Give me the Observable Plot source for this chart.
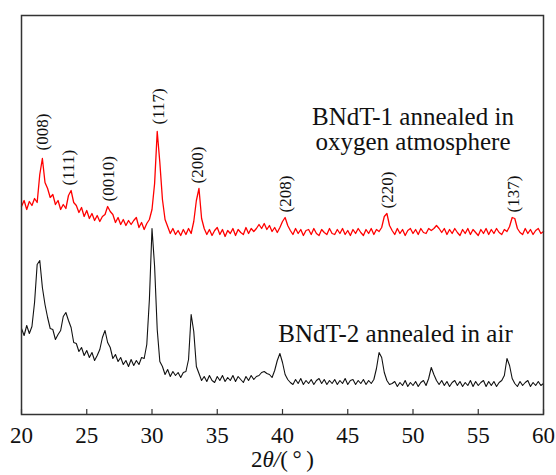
<!DOCTYPE html>
<html><head><meta charset="utf-8">
<script src="https://cdn.jsdelivr.net/npm/d3@7"></script>
<script src="https://cdn.jsdelivr.net/npm/@observablehq/plot@0.6"></script>
<style>body{margin:0;background:#fff}</style>
</head><body><div id="chart"></div>
<script>
// 2θ sampling grid (degrees), 20 → 60 in 0.2° steps
const twoTheta = d3.range(0, 201).map(i => +(20 + i * 0.2).toFixed(1));

// BNdT-1 annealed in oxygen atmosphere (intensity, a.u.)
const bndt1 = [
  208,214,205,213,209,216,212,240,256,232,
  226,217,220,210,214,205,210,206,219,224,
  212,209,202,207,198,204,196,201,194,199,
  193,198,200,208,203,200,192,197,190,195,
  189,194,190,194,197,187,192,185,191,195,
  205,231,283,252,215,195,188,181,186,180,
  184,179,185,180,186,181,193,214,226,196,
  186,180,185,179,184,187,180,185,178,184,
  181,186,179,185,182,180,187,181,186,183,
  186,190,186,191,185,189,183,187,182,187,
  193,197,189,184,180,186,181,185,179,184,
  185,180,186,181,179,185,182,180,186,181,
  180,185,181,186,180,184,179,185,181,186,
  182,179,185,181,186,180,185,183,187,198,
  201,189,184,180,186,181,185,179,184,186,
  181,185,180,186,182,181,186,184,186,189,
  186,182,186,180,185,181,186,182,179,185,
  181,186,180,185,182,179,185,181,186,180,
  185,181,186,182,180,185,183,188,197,196,
  186,182,180,186,181,185,180,184,186,181,
  183
];

// BNdT-2 annealed in air
const bndt2 = [
  86,79,89,81,88,112,150,154,127,110,
  97,86,85,75,80,84,98,102,94,87,
  72,71,63,67,59,64,57,62,54,59,
  65,77,84,72,67,56,60,53,57,50,
  54,48,55,49,54,50,57,56,70,115,
  186,148,85,53,48,40,45,38,43,39,
  42,37,42,43,55,100,83,48,41,34,
  38,33,39,34,32,38,34,39,33,37,
  34,39,33,38,35,32,38,34,39,35,
  38,39,42,43,41,40,37,44,54,61,
  52,40,35,32,30,35,31,36,30,34,
  31,35,30,34,36,31,35,30,34,31,
  35,30,34,31,36,30,34,35,30,34,
  31,35,30,34,31,35,46,62,57,42,
  34,30,31,33,28,32,29,34,28,32,
  29,33,28,32,34,29,36,47,40,34,
  30,34,29,33,28,32,34,29,33,28,
  32,29,34,28,33,29,32,34,28,33,
  29,33,28,32,34,39,56,49,36,31,
  28,33,29,32,34,28,32,29,33,29,
  31
];

// Indexed reflections of BNdT-1
const peakHkl = ["(008)","(111)","(0010)","(117)","(200)","(208)","(220)","(137)"];
const peakTheta = [21.6, 23.6, 26.7, 30.5, 33.5, 40.2, 48.05, 57.7];
const peakIntensity = [259, 224, 208, 285, 226, 197, 201, 197];

const xTicks = [20,25,30,35,40,45,50,55,60];

const s1 = twoTheta.map((t, i) => ({t, v: bndt1[i]}));
const s2 = twoTheta.map((t, i) => ({t, v: bndt2[i]}));
const peaks = peakHkl.map((h, i) => ({h, t: peakTheta[i], v: peakIntensity[i]}));

const serif = "'Liberation Serif', 'Times New Roman', serif";

const plot = Plot.plot({
  width: 556,
  height: 475,
  marginLeft: 21,
  marginRight: 13,
  marginTop: 15,
  marginBottom: 61,
  style: {fontFamily: serif, background: "#fff", color: "#111"},
  x: {domain: [20, 60]},
  y: {domain: [0, 399], axis: null},
  marks: [
    Plot.line(s2, {x: "t", y: "v", stroke: "#111", strokeWidth: 1.1}),
    Plot.line(s1, {x: "t", y: "v", stroke: "#ff0000", strokeWidth: 1.3}),
    Plot.text(peaks, {x: "t", y: d => d.v + 5, text: "h", rotate: -90, textAnchor: "start",
      fontSize: 17, fill: "#111"}),
    Plot.text(["BNdT-1 annealed in\noxygen atmosphere"], {x: () => 50, y: () => 285, text: d => d,
      fontSize: 25, lineHeight: 1, fill: "#111"}),
    Plot.text(["BNdT-2 annealed in air"], {x: () => 48.66, y: () => 81, text: d => d,
      fontSize: 25, fill: "#111"}),
    Plot.ruleX(xTicks, {y1: 0, y2: 5, stroke: "#333", strokeWidth: 1.2}),
    Plot.axisX(xTicks, {tickSize: 0, tickPadding: 12, fontSize: 23, label: "2θ/(°)",
      labelAnchor: "center", labelOffset: 52, labelArrow: "none"}),
    Plot.frame({stroke: "#333", strokeWidth: 1.5})
  ]
});

document.getElementById("chart").appendChild(plot);

// style the axis label: italic θ/
const lab = d3.select(plot).selectAll('[aria-label="x-axis label"] text');
lab.each(function () {
  const t = d3.select(this);
  t.text(null).style("font-size", "23px");
  t.append("tspan").text("2");
  t.append("tspan").attr("font-style", "italic").text("θ/");
  t.append("tspan").text("(\u2009°\u2009)");
});
</script>
</body></html>
